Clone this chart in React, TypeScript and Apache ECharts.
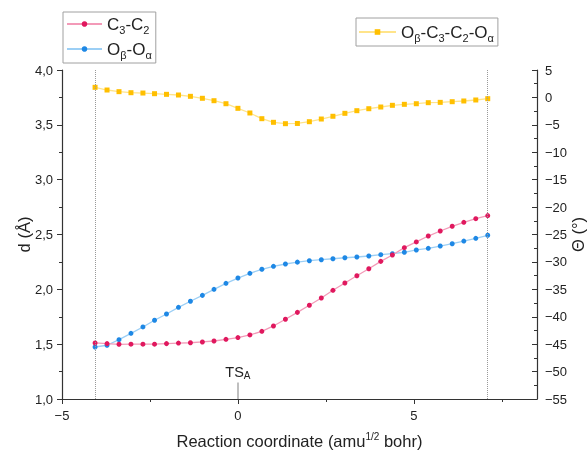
import React, { useEffect, useRef } from "react";
import * as echarts from "echarts";

// Reaction coordinate (amu^1/2 bohr)
const X = [-4.06, -3.72, -3.38, -3.04, -2.7, -2.37, -2.03, -1.69, -1.35, -1.01, -0.68, -0.34, 0, 0.34, 0.68, 1.01, 1.35, 1.69, 2.03, 2.37, 2.7, 3.04, 3.38, 3.72, 4.06, 4.39, 4.73, 5.07, 5.41, 5.75, 6.09, 6.42, 6.76, 7.1];
// d (Å)
const C3C2 = [1.511, 1.505, 1.499, 1.5, 1.5, 1.5, 1.505, 1.51, 1.513, 1.52, 1.529, 1.544, 1.56, 1.584, 1.617, 1.666, 1.727, 1.79, 1.855, 1.921, 1.991, 2.058, 2.124, 2.188, 2.255, 2.313, 2.38, 2.432, 2.486, 2.532, 2.575, 2.611, 2.644, 2.672];
const OBOA = [1.474, 1.49, 1.541, 1.599, 1.657, 1.718, 1.775, 1.836, 1.891, 1.945, 2.0, 2.055, 2.103, 2.146, 2.183, 2.21, 2.231, 2.248, 2.261, 2.27, 2.279, 2.288, 2.295, 2.304, 2.316, 2.325, 2.338, 2.359, 2.374, 2.395, 2.416, 2.44, 2.465, 2.493];
// Θ (°)
const DIHEDRAL = [1.84, 1.35, 1.05, 0.86, 0.8, 0.68, 0.56, 0.44, 0.2, -0.16, -0.6, -1.15, -1.99, -2.84, -3.88, -4.54, -4.79, -4.75, -4.43, -3.94, -3.44, -2.9, -2.42, -2.06, -1.75, -1.44, -1.26, -1.15, -0.96, -0.9, -0.78, -0.65, -0.47, -0.23];

const X_LABEL_VALUES = [-5, 0, 5];
const X_MINOR_VALUES = [-2.5, 2.5, 7.5];
const TS_POSITION = 0;

const NAMES = ["C3-C2", "Oβ-Oα", "Oβ-C3-C2-Oα"];
const RICH_NAMES: Record<string, string> = {
  "C3-C2": "C{s|3}-C{s|2}",
  "Oβ-Oα": "O{s|β}-O{s|α}",
  "Oβ-C3-C2-Oα": "O{s|β}-C{s|3}-C{s|2}-O{s|α}",
};

const FONT = "'Liberation Sans', Arial, sans-serif";
const AXIS_COLOR = "#333";
const TEXT_COLOR = "#222";

const minus = (v: number | string) => String(v).replace("-", "\u2212");

export default function App() {
  const ref = useRef<HTMLDivElement>(null);
  useEffect(() => {
    if (!ref.current) return;
    const chart = echarts.init(ref.current, undefined, { renderer: "svg" });
    const legendText = {
      fontFamily: FONT,
      fontSize: 17,
      color: TEXT_COLOR,
      lineHeight: 22,
      rich: {
        s: { fontFamily: FONT, fontSize: 11, lineHeight: 11, verticalAlign: "bottom", color: TEXT_COLOR },
      },
    };
    const zip = (ys: number[]) => X.map((x, i) => [x, ys[i]]);
    chart.setOption({
      animation: false,
      textStyle: { fontFamily: FONT },
      grid: { left: 62, right: 51, top: 70, bottom: 54, containLabel: false, outerBoundsMode: "none" },
      legend: [
        {
          data: [NAMES[0], NAMES[1]],
          orient: "vertical",
          left: 63,
          top: 12,
          itemWidth: 35,
          itemHeight: 7,
          itemGap: 3,
          padding: [1, 4, 3, 3],
          borderColor: "#a0a0a0",
          borderWidth: 1,
          selectedMode: false,
          formatter: (n: string) => RICH_NAMES[n],
          textStyle: legendText,
        },
        {
          data: [NAMES[2]],
          orient: "vertical",
          left: 356,
          top: 18,
          itemWidth: 37,
          itemHeight: 7,
          padding: [3, 4, 3, 2],
          borderColor: "#a0a0a0",
          borderWidth: 1,
          selectedMode: false,
          formatter: (n: string) => RICH_NAMES[n],
          textStyle: legendText,
        },
      ],
      xAxis: [
        {
          type: "value",
          min: -5,
          max: 8.5,
          interval: 5,
          name: "Reaction coordinate (amu{sup|1/2} bohr)",
          nameLocation: "middle",
          nameGap: 32,
          nameMoveOverlap: false,
          nameTextStyle: {
            fontFamily: FONT,
            fontSize: 16.5,
            color: TEXT_COLOR,
            lineHeight: 20,
            rich: { sup: { fontFamily: FONT, fontSize: 10, lineHeight: 10, verticalAlign: "top", color: TEXT_COLOR } },
          },
          axisLine: { show: true, onZero: false, lineStyle: { color: AXIS_COLOR, width: 1.2 } },
          axisTick: { show: true, length: 5, customValues: X_LABEL_VALUES, lineStyle: { color: AXIS_COLOR } },
          axisLabel: { customValues: X_LABEL_VALUES, margin: 10, fontSize: 13, color: TEXT_COLOR, fontFamily: FONT, formatter: (v: number) => minus(v) },
          splitLine: { show: false },
        },
        {
          type: "value",
          position: "bottom",
          min: -5,
          max: 8.5,
          interval: 2.5,
          axisLine: { show: false, onZero: false },
          axisTick: { show: true, length: 3, customValues: X_MINOR_VALUES, lineStyle: { color: AXIS_COLOR } },
          axisLabel: { show: false },
          splitLine: { show: false },
        },
      ],
      yAxis: [
        {
          type: "value",
          min: 1,
          max: 4,
          interval: 0.5,
          name: "d (Å)",
          nameLocation: "middle",
          nameGap: 30,
          nameMoveOverlap: false,
          nameTextStyle: { fontFamily: FONT, fontSize: 16.5, color: TEXT_COLOR },
          axisLine: { show: true, onZero: false, lineStyle: { color: AXIS_COLOR, width: 1.2 } },
          axisTick: { show: true, length: 5, lineStyle: { color: AXIS_COLOR } },
          minorTick: { show: true, splitNumber: 2, length: 3, lineStyle: { color: AXIS_COLOR } },
          axisLabel: { margin: 9, fontSize: 13, color: TEXT_COLOR, fontFamily: FONT, formatter: (v: number) => v.toFixed(1).replace(".", ",") },
          splitLine: { show: false },
          minorSplitLine: { show: false },
        },
        {
          type: "value",
          position: "right",
          min: -55,
          max: 5,
          interval: 5,
          name: "Θ (°)",
          nameLocation: "middle",
          nameGap: 32,
          nameMoveOverlap: false,
          nameTextStyle: { fontFamily: FONT, fontSize: 16.5, color: TEXT_COLOR },
          axisLine: { show: true, onZero: false, lineStyle: { color: AXIS_COLOR, width: 1.2 } },
          axisTick: { show: true, inside: true, length: 5, lineStyle: { color: AXIS_COLOR } },
          minorTick: { show: true, splitNumber: 2, length: 3, lineStyle: { color: AXIS_COLOR } },
          axisLabel: { margin: 8, fontSize: 13, color: TEXT_COLOR, fontFamily: FONT, formatter: (v: number) => minus(v) },
          splitLine: { show: false },
          minorSplitLine: { show: false },
        },
      ],
      series: [
        {
          name: NAMES[2],
          type: "line",
          xAxisIndex: 0,
          yAxisIndex: 1,
          data: zip(DIHEDRAL),
          symbol: "rect",
          symbolSize: 5,
          itemStyle: { color: "#ffbf00" },
          lineStyle: { color: "#ffe48a", width: 1.3 },
          z: 2,
        },
        {
          name: NAMES[1],
          type: "line",
          xAxisIndex: 0,
          yAxisIndex: 0,
          data: zip(OBOA),
          symbol: "circle",
          symbolSize: 5,
          itemStyle: { color: "#1e88e5" },
          lineStyle: { color: "#9ccff5", width: 1.3 },
          z: 3,
          markLine: {
            silent: true,
            symbol: "none",
            lineStyle: { color: "#aaaaaa", type: "solid", width: 1.5 },
            label: {
              show: true,
              position: "end",
              distance: 2,
              formatter: "TS{s|A}",
              fontFamily: FONT,
              fontSize: 14.5,
              color: TEXT_COLOR,
              lineHeight: 18,
              rich: { s: { fontFamily: FONT, fontSize: 10, lineHeight: 10, verticalAlign: "bottom", color: TEXT_COLOR } },
            },
            data: [[{ coord: [TS_POSITION, 1.0] }, { coord: [TS_POSITION, 1.15] }]],
          },
        },
        {
          name: NAMES[0],
          type: "line",
          xAxisIndex: 0,
          yAxisIndex: 0,
          data: zip(C3C2),
          symbol: "circle",
          symbolSize: 5,
          itemStyle: { color: "#e0185e" },
          lineStyle: { color: "#f39ab8", width: 1.3 },
          z: 4,
          markLine: {
            silent: true,
            symbol: "none",
            label: { show: false },
            lineStyle: { color: "#999999", type: "dotted", width: 1 },
            data: [{ xAxis: X[0] }, { xAxis: X[X.length - 1] }],
          },
        },
      ],
    });
    return () => chart.dispose();
  }, []);
  return <div ref={ref} style={{ width: 588, height: 453, position: "fixed", left: 0, top: 0 }} />;
}
